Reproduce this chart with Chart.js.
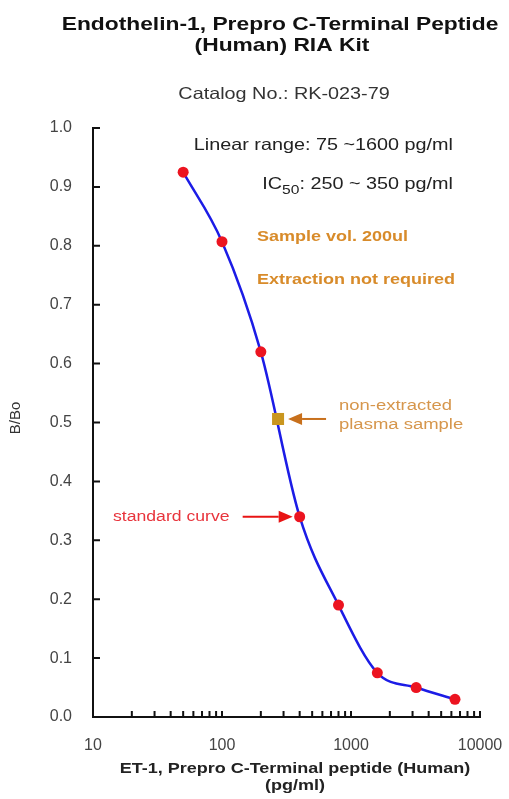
<!DOCTYPE html>
<html>
<head>
<meta charset="utf-8">
<title>ET-1 Prepro C-Terminal Peptide RIA Kit</title>
<script src="https://cdn.jsdelivr.net/npm/chart.js@4.4.0/dist/chart.umd.min.js"></script>
<style>
  html, body { margin: 0; padding: 0; background: #fff; }
  #chartBox { width: 509px; height: 799px; }
</style>
</head>
<body>
<div id="chartBox"><canvas id="riaChart" width="509" height="799"></canvas></div>
<script>
// standard curve (pg/ml vs B/Bo)
const doses = [50, 100, 200, 400, 800, 1600, 3200, 6400];
const bBo = [0.925, 0.807, 0.62, 0.34, 0.19, 0.075, 0.05, 0.03];
// non-extracted plasma sample
const sampleDose = [272];
const sampleBBo = [0.506];
// axis tick labels
const xTickLabels = [10, 100, 1000, 10000];
const yTickLabels = [0, 0.1, 0.2, 0.3, 0.4, 0.5, 0.6, 0.7, 0.8, 0.9, 1.0];

const FONT = '"Liberation Sans", Arial, sans-serif';
const SX = 1.2; // text in the reference is stretched sideways

// draws text stretched horizontally, returns width used
function drawText(ctx, text, x, y, size, color, align, bold) {
    ctx.save();
    ctx.font = (bold ? 'bold ' : '') + size + 'px ' + FONT;
    ctx.fillStyle = color;
    ctx.textBaseline = 'middle';
    ctx.textAlign = 'left';
    const w = ctx.measureText(text).width * SX;
    let left = x;
    if (align === 'center') left = x - w / 2;
    if (align === 'right') left = x - w;
    ctx.translate(left, y);
    ctx.scale(SX, 1);
    ctx.fillText(text, 0, 0);
    ctx.restore();
    return w;
}

function textWidth(ctx, text, size, bold) {
    ctx.save();
    ctx.font = (bold ? 'bold ' : '') + size + 'px ' + FONT;
    const w = ctx.measureText(text).width * SX;
    ctx.restore();
    return w;
}

function arrow(ctx, fromX, y, tipX, color) {
    const dir = Math.sign(tipX - fromX);
    const head = 14;
    ctx.save();
    ctx.strokeStyle = color;
    ctx.fillStyle = color;
    ctx.lineWidth = 2;
    ctx.beginPath();
    ctx.moveTo(fromX, y);
    ctx.lineTo(tipX - dir * head, y);
    ctx.stroke();
    ctx.beginPath();
    ctx.moveTo(tipX, y);
    ctx.lineTo(tipX - dir * head, y - 6);
    ctx.lineTo(tipX - dir * head, y + 6);
    ctx.closePath();
    ctx.fill();
    ctx.restore();
}

// inward tick marks, titles and notes
const decorations = {
    id: 'decorations',
    afterDraw(chart) {
        const ctx = chart.ctx;
        const x = chart.scales.x;
        const y = chart.scales.y;
        const area = chart.chartArea;

        ctx.save();
        ctx.strokeStyle = '#111';
        ctx.lineWidth = 2;
        ctx.beginPath();
        yTickLabels.forEach(v => {
            if (v === 0) return;
            const py = y.getPixelForValue(v);
            ctx.moveTo(area.left, py);
            ctx.lineTo(area.left + 7, py);
        });
        for (let d = 10; d < 10000; d *= 10) {
            for (let m = 2; m <= 10; m++) {
                const px = x.getPixelForValue(d * m);
                ctx.moveTo(px, area.bottom);
                ctx.lineTo(px, area.bottom - 6);
            }
        }
        ctx.stroke();
        ctx.restore();

        // titles
        drawText(ctx, 'Endothelin-1, Prepro C-Terminal Peptide', 280, 25, 19, '#111', 'center', true);
        drawText(ctx, '(Human) RIA Kit', 282, 46, 19, '#111', 'center', true);
        drawText(ctx, 'Catalog No.: RK-023-79', 284, 94, 16.5, '#333', 'center', false);

        // axis titles
        drawText(ctx, 'ET-1, Prepro C-Terminal peptide (Human)', 295, 769, 15, '#222', 'center', true);
        drawText(ctx, '(pg/ml)', 295, 786, 15, '#222', 'center', true);
        ctx.save();
        ctx.translate(16, 418);
        ctx.rotate(-Math.PI / 2);
        ctx.font = '15px ' + FONT;
        ctx.fillStyle = '#333';
        ctx.textAlign = 'center';
        ctx.textBaseline = 'middle';
        ctx.fillText('B/Bo', 0, 0);
        ctx.restore();

        // kit notes
        drawText(ctx, 'Linear range: 75 ~1600 pg/ml', 453, 145, 16.5, '#222', 'right', false);
        const rest = ': 250 ~ 350 pg/ml';
        const wRest = textWidth(ctx, rest, 16.5, false);
        const wSub = textWidth(ctx, '50', 13, false);
        const wIC = textWidth(ctx, 'IC', 16.5, false);
        const sx = 453 - wRest - wSub - wIC;
        drawText(ctx, 'IC', sx, 184, 16.5, '#222', 'left', false);
        drawText(ctx, '50', sx + wIC, 190, 13, '#222', 'left', false);
        drawText(ctx, rest, sx + wIC + wSub, 184, 16.5, '#222', 'left', false);

        drawText(ctx, 'Sample vol. 200ul', 257, 237, 15, '#d88b2a', 'left', true);
        drawText(ctx, 'Extraction not required', 257, 280, 15, '#d88b2a', 'left', true);

        // sample arrow + label
        const sPx = x.getPixelForValue(sampleDose[0]);
        const sPy = y.getPixelForValue(sampleBBo[0]);
        arrow(ctx, sPx + 48, sPy, sPx + 10, '#c8701c');
        drawText(ctx, 'non-extracted', 339, 406, 15.4, '#d6964c', 'left', false);
        drawText(ctx, 'plasma sample', 339, 425, 15.4, '#d6964c', 'left', false);

        // standard curve arrow + label
        const cPx = x.getPixelForValue(doses[3]);
        const cPy = y.getPixelForValue(bBo[3]);
        arrow(ctx, cPx - 57, cPy, cPx - 7, '#e81414');
        drawText(ctx, 'standard curve', 113, 517, 14.7, '#e8343c', 'left', false);
    }
};

new Chart(document.getElementById('riaChart'), {
    type: 'line',
    data: {
        datasets: [
            {
                label: 'non-extracted plasma sample',
                type: 'scatter',
                data: sampleDose.map((d, i) => ({ x: d, y: sampleBBo[i] })),
                pointStyle: 'rect',
                pointRadius: 8.5,
                pointBackgroundColor: '#c9961f',
                pointBorderWidth: 0
            },
            {
                label: 'standard curve',
                data: doses.map((d, i) => ({ x: d, y: bBo[i] })),
                borderColor: '#1c1ce6',
                borderWidth: 2.5,
                cubicInterpolationMode: 'monotone',
                fill: false,
                pointRadius: 5.5,
                pointBackgroundColor: '#ec1420',
                pointBorderWidth: 0
            }
        ]
    },
    options: {
        responsive: false,
        animation: false,
        layout: { padding: { top: 128, right: 29, left: 0, bottom: 0 } },
        plugins: {
            legend: { display: false },
            tooltip: { enabled: false }
        },
        scales: {
            x: {
                type: 'logarithmic',
                min: 10,
                max: 10000,
                grid: { display: false, drawTicks: false },
                border: { display: true, color: '#111', width: 2 },
                ticks: {
                    autoSkip: false,
                    maxRotation: 0,
                    padding: 19,
                    color: '#444',
                    font: { size: 16, family: FONT },
                    callback: v => xTickLabels.includes(v) ? String(v) : ''
                },
                afterFit: s => {
                    s.height = 82;
                    s.paddingLeft = 0;
                    s.paddingRight = 0;
                }
            },
            y: {
                min: 0,
                max: 1,
                grid: { display: false, drawTicks: false },
                border: { display: true, color: '#111', width: 2 },
                ticks: {
                    stepSize: 0.1,
                    padding: 21,
                    color: '#444',
                    font: { size: 16, family: FONT },
                    callback: v => v.toFixed(1)
                },
                afterFit: s => {
                    s.width = 93;
                    s.paddingTop = 0;
                    s.paddingBottom = 0;
                }
            }
        }
    },
    plugins: [decorations]
});
</script>
</body>
</html>
